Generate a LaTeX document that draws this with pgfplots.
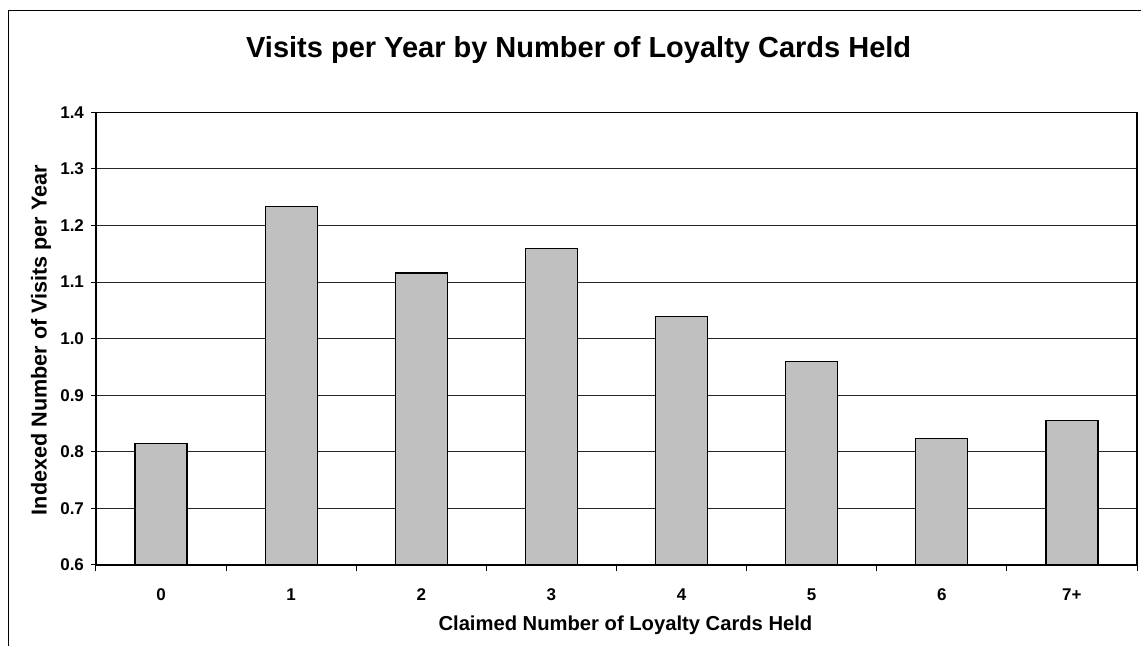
\documentclass[border=0pt]{standalone}
\usepackage{pgfplots}
\pgfplotsset{compat=1.18}
\usepackage{fontspec}
\setmainfont{Liberation Sans}
\definecolor{barfill}{HTML}{C0C0C0}
\begin{document}
\begin{tikzpicture}
\useasboundingbox (0,0) rectangle (570.5pt,323pt);
\draw[line width=0.6pt] (4.15pt,0) -- (4.15pt,317.65pt) -- (570.5pt,317.65pt);
\begin{axis}[
  at={(48pt,40.5pt)}, anchor=south west,
  scale only axis, width=520.5pt, height=226.35pt,
  xmin=-0.5, xmax=7.5, ymin=0.6, ymax=1.4,
  ytick={0.6,0.7,...,1.41},
  xtick={0,...,7},
  xticklabels={0,1,2,3,4,5,6,7+},
  minor xtick={-0.5,0.5,...,7.6},
  xtick pos=bottom, ytick pos=left,
  major x tick style={draw=none},
  tick align=outside,
  major tick length=2.5pt,
  minor tick length=3pt,
  tick style={black, line width=0.5pt},
  ymajorgrids,
  major grid style={black!85, line width=0.5pt},
  axis line style={black, line width=0.6pt},
  /pgf/number format/.cd, fixed, fixed zerofill, precision=1, assume math mode=true,
  /pgfplots/.cd,
  tick label style={font=\fontsize{8.5}{10}\selectfont\bfseries},
  xticklabel style={yshift=-6pt},
  every axis title shift=0pt,
  title={Visits per Year by Number of Loyalty Cards Held},
  title style={font=\fontsize{14.5}{17}\selectfont\bfseries, at={(axis description cs:0.4637,1.1215)}, anchor=base},
  xlabel={Claimed Number of Loyalty Cards Held},
  xlabel style={font=\fontsize{10.1}{12}\selectfont\bfseries, at={(axis description cs:0.5086,-0.1451)}, anchor=base},
  ylabel={Indexed Number of Visits per Year},
  ylabel style={font=\fontsize{10.8}{12}\selectfont\bfseries, at={(axis description cs:-0.04736,0.497)}, anchor=base, rotate=0},
  clip=false,
]
\addplot[ybar, bar width=26pt, fill=barfill, draw=black, line width=0.6pt] coordinates {
(0,0.814) (1,1.233) (2,1.116) (3,1.159) (4,1.039) (5,0.960) (6,0.823) (7,0.855)
};
\end{axis}
\end{tikzpicture}
\end{document}
